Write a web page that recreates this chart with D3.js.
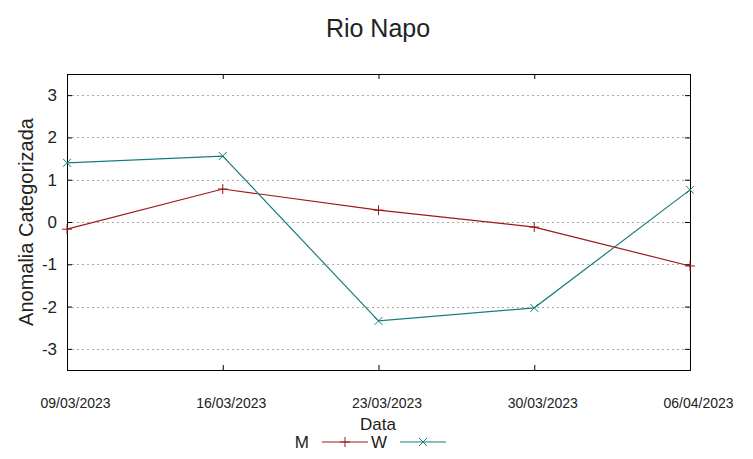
<!DOCTYPE html>
<html>
<head>
<meta charset="utf-8">
<script src="https://cdn.jsdelivr.net/npm/d3@7/dist/d3.min.js"></script>
<style>
  body { margin: 0; background: #fff; }
  text { font-family: "Liberation Sans", Arial, sans-serif; fill: #222; }
</style>
</head>
<body>
<svg id="chart" width="753" height="459"></svg>
<script>
// Data
var dates = ["09/03/2023", "16/03/2023", "23/03/2023", "30/03/2023", "06/04/2023"];
var seriesM = [-0.17, 0.78, 0.28, -0.12, -1.04];
var seriesW = [1.40, 1.56, -2.34, -2.03, 0.76];
var yTicks = [-3, -2, -1, 0, 1, 2, 3];

var colorM = "#a01818";
var colorW = "#1b7c7c";

var width = 753, height = 459;
var margin = { left: 67, right: 63, top: 74, bottom: 89 };

var svg = d3.select("#chart");

var xScale = d3.scalePoint()
  .domain(dates)
  .range([margin.left, width - margin.right]);

var yScale = d3.scaleLinear()
  .domain([-3.5, 3.5])
  .range([height - margin.bottom, margin.top]);

// Grid lines
svg.append("g")
  .selectAll("line")
  .data(yTicks)
  .enter()
  .append("line")
  .attr("x1", margin.left)
  .attr("x2", width - margin.right)
  .attr("y1", function(d) { return Math.round(yScale(d)) + 0.5; })
  .attr("y2", function(d) { return Math.round(yScale(d)) + 0.5; })
  .attr("stroke", "#aaa")
  .attr("stroke-width", 1)
  .attr("stroke-dasharray", "2,3");

// Axes (ticks inward)
var yLeft = d3.axisLeft(yScale).tickValues(yTicks).tickSize(-5).tickPadding(10)
  .tickFormat(function(d) { return String(d); });
var yRight = d3.axisRight(yScale).tickValues(yTicks).tickSize(-5).tickFormat("");
var xBottom = d3.axisBottom(xScale).tickSize(-5).tickPadding(28);
var xTop = d3.axisTop(xScale).tickSize(-5).tickFormat("");

function styleAxis(g) {
  g.select(".domain").remove();
  g.selectAll(".tick line").attr("stroke", "#000");
  g.selectAll(".tick text")
    .style("font-family", "'Liberation Sans', Arial, sans-serif")
    .attr("fill", "#222");
}

svg.append("g")
  .attr("transform", "translate(" + margin.left + ",0)")
  .call(yLeft)
  .call(styleAxis)
  .selectAll(".tick text").style("font-size", "17px");

svg.append("g")
  .attr("transform", "translate(" + (width - margin.right) + ",0)")
  .call(yRight)
  .call(styleAxis);

svg.append("g")
  .attr("transform", "translate(0," + (height - margin.bottom) + ")")
  .call(xBottom)
  .call(styleAxis)
  .selectAll(".tick text")
  .style("font-size", "14px")
  .attr("dx", 8);

svg.append("g")
  .attr("transform", "translate(0," + margin.top + ")")
  .call(xTop)
  .call(styleAxis);

// Frame
svg.append("rect")
  .attr("x", margin.left + 0.5)
  .attr("y", margin.top + 0.5)
  .attr("width", width - margin.left - margin.right)
  .attr("height", height - margin.top - margin.bottom)
  .attr("fill", "none")
  .attr("stroke", "#000")
  .attr("stroke-width", 1);

// Lines
var line = d3.line()
  .x(function(d, i) { return xScale(dates[i]); })
  .y(function(d) { return yScale(d); });

function drawSeries(values, color, symbol) {
  var g = svg.append("g");
  g.append("path")
    .datum(values)
    .attr("d", line)
    .attr("fill", "none")
    .attr("stroke", color)
    .attr("stroke-width", 1.2);
  g.selectAll("path.pt")
    .data(values)
    .enter()
    .append("path")
    .classed("pt", true)
    .attr("transform", function(d, i) {
      return "translate(" + xScale(dates[i]) + "," + yScale(d) + ")";
    })
    .attr("d", symbol)
    .attr("fill", "none")
    .attr("stroke", color)
    .attr("stroke-width", 1);
}

var plusSym = "M-5,0L5,0M0,-5L0,5";
var crossSym = "M-4,-4L4,4M-4,4L4,-4";

drawSeries(seriesM, colorM, plusSym);
drawSeries(seriesW, colorW, crossSym);

// Title and labels
svg.append("text")
  .attr("x", 378)
  .attr("y", 37)
  .attr("text-anchor", "middle")
  .style("font-size", "25px")
  .text("Rio Napo");

svg.append("text")
  .attr("transform", "translate(33," + ((margin.top + height - margin.bottom) / 2) + ") rotate(-90)")
  .attr("text-anchor", "middle")
  .style("font-size", "20px")
  .text("Anomalia Categorizada");

svg.append("text")
  .attr("x", 378)
  .attr("y", 430)
  .attr("text-anchor", "middle")
  .style("font-size", "17px")
  .text("Data");

// Legend
var legend = [
  { name: "M", color: colorM, symbol: plusSym, x: 322 },
  { name: "W", color: colorW, symbol: crossSym, x: 400 }
];

var lg = svg.append("g").selectAll("g")
  .data(legend)
  .enter()
  .append("g");

lg.append("text")
  .attr("x", function(d) { return d.x - 13; })
  .attr("y", 448)
  .attr("text-anchor", "end")
  .style("font-size", "17px")
  .text(function(d) { return d.name; });

lg.append("line")
  .attr("x1", function(d) { return d.x; })
  .attr("x2", function(d) { return d.x + 46; })
  .attr("y1", 442)
  .attr("y2", 442)
  .attr("stroke", function(d) { return d.color; })
  .attr("stroke-width", 1.2);

lg.append("path")
  .attr("transform", function(d) { return "translate(" + (d.x + 23) + ",442)"; })
  .attr("d", function(d) { return d.symbol; })
  .attr("fill", "none")
  .attr("stroke", function(d) { return d.color; });
</script>
</body>
</html>
